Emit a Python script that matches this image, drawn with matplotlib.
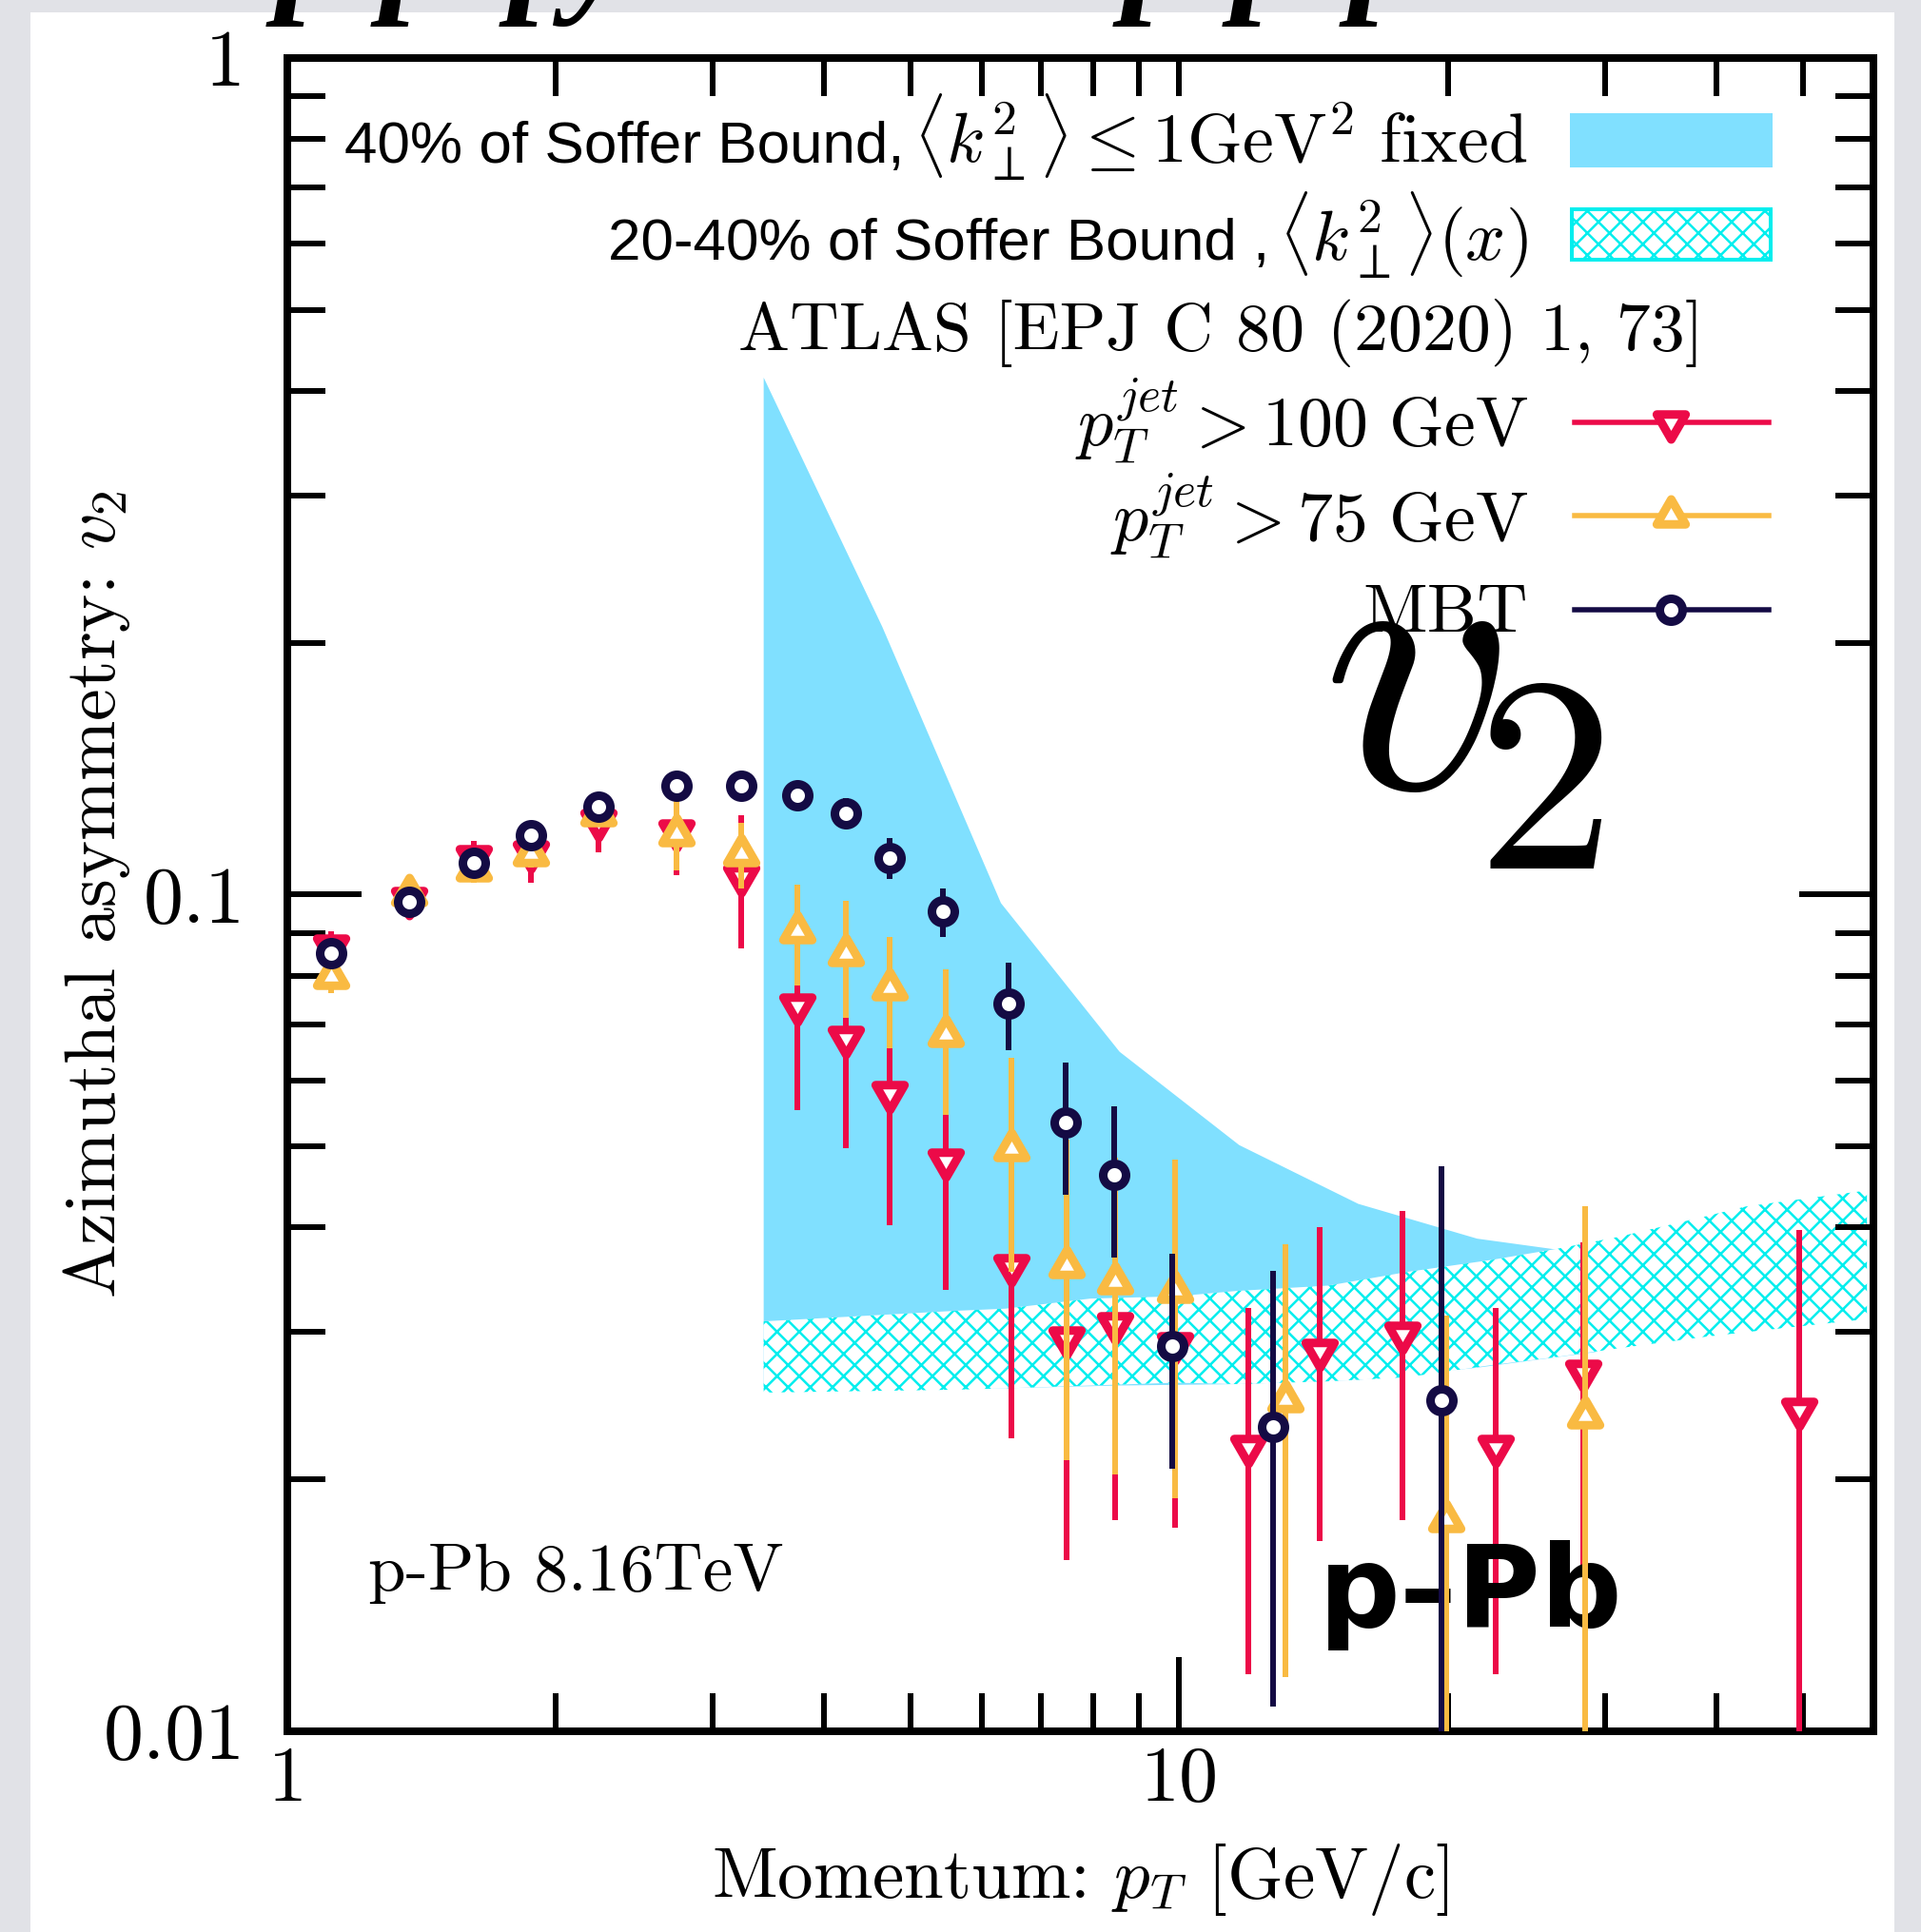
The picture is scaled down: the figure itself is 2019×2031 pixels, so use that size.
import numpy as np
import matplotlib
matplotlib.use("Agg")
import matplotlib.pyplot as plt
import matplotlib.transforms as mtransforms
from matplotlib.path import Path
from matplotlib.patches import Rectangle
from matplotlib.lines import Line2D

DPI = 140
W, H = 2019, 2031


def px(v):
    # size given in output pixels -> points
    return v * 72.0 / DPI


RED = "#EC0A48"
ORANGE = "#F9BA42"
NAVY = "#140B44"
BAND = "#80E0FF"
HATCH = "#00EEEE"
BG = "#E1E2E7"

plt.rcParams.update({
    "mathtext.fontset": "cm",
    "hatch.linewidth": px(2.5),
    "axes.linewidth": px(8),
    "axes.unicode_minus": False,
})

# ---- data ----
pt_mbt = [1.12, 1.37, 1.62, 1.875, 2.23, 2.73, 3.23, 3.73, 4.23, 4.73, 5.43,
          6.44, 7.45, 8.45, 9.81, 12.74, 19.69]
v2_mbt = [0.0851, 0.0980, 0.1091, 0.1179, 0.1274, 0.1351, 0.1351, 0.1315, 0.1252,
          0.1106, 0.0954, 0.0741, 0.0534, 0.0463, 0.0289, 0.0231, 0.0249]
err_mbt = [0.002, 0.002, 0.002, 0.002, 0.002, 0.002, 0.002, 0.0025, 0.0053,
           0.0062, 0.0064, 0.0089, 0.0096, 0.0095, 0.0083, 0.0124, 0.0224]

pt_100 = [1.12, 1.37, 1.62, 1.875, 2.23, 2.73, 3.23, 3.73, 4.23, 4.73, 5.47,
          6.48, 7.47, 8.47, 9.90, 11.94, 14.38, 17.80, 22.65, 28.34, 49.5]
v2_100 = [0.0868, 0.0988, 0.1110, 0.1123, 0.1225, 0.1191, 0.1053, 0.0737, 0.0675,
          0.0580, 0.0481, 0.0360, 0.0295, 0.0307, 0.0290, 0.0219, 0.0285, 0.0299,
          0.0219, 0.0269, 0.0242]
err_100 = [0.0035, 0.003, 0.005, 0.009, 0.010, 0.0135, 0.019, 0.0184, 0.0177,
           0.0177, 0.0144, 0.0136, 0.0135, 0.0128, 0.0115, 0.0102, 0.0116, 0.012,
           0.0102, 0.0115, 0.0155]

pt_75 = [1.12, 1.37, 1.62, 1.875, 2.23, 2.73, 3.23, 3.73, 4.23, 4.73, 5.47,
         6.48, 7.47, 8.47, 9.90, 13.15, 19.9, 28.49]
v2_75 = [0.0797, 0.1000, 0.1072, 0.1117, 0.1247, 0.1181, 0.1117, 0.0904, 0.0848,
         0.0773, 0.0680, 0.0496, 0.0360, 0.0344, 0.0336, 0.0249, 0.0179, 0.0238]
err_75 = [0.0035, 0.003, 0.004, 0.004, 0.004, 0.0113, 0.010, 0.0125, 0.0136,
          0.0117, 0.0135, 0.0142, 0.0149, 0.0141, 0.0146, 0.0133, 0.0135, 0.0186]

# 40% Soffer band (solid)
band40_x = [3.42, 4.645, 6.31, 8.57, 11.67, 15.87, 21.57, 29.3]
band40_hi = [0.415, 0.209, 0.0977, 0.0649, 0.0502, 0.0427, 0.0388, 0.0371]
band40_lo = [0.0256, 0.0257, 0.0257, 0.0259, 0.0260, 0.0263, 0.0272, 0.0284]

# 20-40% Soffer band (hatched)
band20_x = [3.42, 5.58, 6.38, 7.95, 9.9, 11.6, 14.7, 18.0, 22.4, 26.4, 31.1,
            38.7, 43.2, 59.0]
band20_hi = [0.0309, 0.0318, 0.0320, 0.0329, 0.0331, 0.0336, 0.0341, 0.0354,
             0.0366, 0.0377, 0.0390, 0.0412, 0.0424, 0.0443]
band20_lo = [0.0254, 0.0256, 0.0257, 0.0259, 0.0261, 0.0260, 0.0262, 0.0265,
             0.0274, 0.0280, 0.0287, 0.0296, 0.0300, 0.0311]

x_major = [1, 10]
x_minor = [2, 3, 4, 5, 6, 7, 8, 9, 20, 30, 40, 50]
y_major = [0.01, 0.1, 1]
y_major_labels = ["0.01", "0.1", "1"]
y_minor = [0.02, 0.03, 0.04, 0.05, 0.06, 0.07, 0.08, 0.09,
           0.2, 0.3, 0.4, 0.5, 0.6, 0.7, 0.8, 0.9]

# ---- markers ----
s3 = np.sqrt(3)
tri_down = Path([(-1, 1 / s3), (1, 1 / s3), (0, -2 / s3), (0, 0)], closed=True)
tri_up = Path([(-1, -1 / s3), (1, -1 / s3), (0, 2 / s3), (0, 0)], closed=True)

TRI = dict(ms=px(35), mew=px(9), mfc="white")
CIRC = dict(ms=px(24), mew=px(9), mfc="white")
ELW = px(6)
CM_FS = px(74)

fig = plt.figure(figsize=(W / DPI, H / DPI), dpi=DPI, facecolor=BG)
fig.add_artist(Rectangle((32 / W, 0), (1991 - 32) / W, 1 - 13 / H,
                         transform=fig.transFigure, facecolor="white",
                         edgecolor="none", zorder=-10))
ax = fig.add_axes([302 / W, 1 - 1820 / H, 1667 / W, 1759 / H])

ax.fill_between(band40_x, band40_lo, band40_hi, facecolor=BAND,
                edgecolor="none", linewidth=0, zorder=1)
ax.fill_between(band20_x, band20_lo, band20_hi, facecolor="white",
                edgecolor=HATCH, hatch="xx", linewidth=0, zorder=1.5)

ax.errorbar(pt_100, v2_100, yerr=err_100, fmt="none", ecolor=RED,
            elinewidth=ELW, capsize=0, zorder=3)
ax.plot(pt_100, v2_100, ls="none", marker=tri_down, mec=RED, zorder=3.1, **TRI)
ax.errorbar(pt_75, v2_75, yerr=err_75, fmt="none", ecolor=ORANGE,
            elinewidth=ELW, capsize=0, zorder=4)
ax.plot(pt_75, v2_75, ls="none", marker=tri_up, mec=ORANGE, zorder=4.1, **TRI)
ax.errorbar(pt_mbt, v2_mbt, yerr=err_mbt, fmt="none", ecolor=NAVY,
            elinewidth=ELW, capsize=0, zorder=5)
ax.plot(pt_mbt, v2_mbt, ls="none", marker="o", mec=NAVY, zorder=5.1, **CIRC)

ax.set_xscale("log")
ax.set_yscale("log")
ax.set_xlim(1, 60)
ax.set_ylim(0.01, 1)
ax.set_xticks(x_major, [str(v) for v in x_major])
ax.set_xticks(x_minor, minor=True)
ax.set_xticklabels([], minor=True)
ax.set_yticks(y_major, y_major_labels)
ax.set_yticks(y_minor, minor=True)
ax.set_yticklabels([], minor=True)
ax.tick_params(which="both", direction="in", top=True, right=True,
               width=px(6), color="black")
ax.tick_params(which="major", length=px(78))
ax.tick_params(which="minor", length=px(40))
ax.tick_params(axis="x", which="major", pad=px(16), labelsize=px(82))
ax.tick_params(axis="y", which="major", pad=px(44), labelsize=px(84))
for lab in ax.get_xticklabels() + ax.get_yticklabels():
    lab.set_fontfamily("cmr10")
# top ticks and the y=1 tick are short in the original
for t in ax.xaxis.get_major_ticks():
    t.tick2line.set_markersize(px(40))
ytk = ax.yaxis.get_major_ticks()
ytk[2].tick1line.set_markersize(px(40))
ytk[2].tick2line.set_markersize(px(40))

ax.set_xlabel(r"Momentum: $p_T$ [GeV/c]", fontfamily="cmr10", fontsize=px(75))
ax.set_ylabel(r"Azimuthal asymmetry: $v_2$", fontfamily="cmr10", fontsize=px(76))
ax.xaxis.set_label_coords(0.5, -0.066)
ax.yaxis.set_label_coords(-0.098, 0.5)

# ---- annotations ----
ax.text(0.0509, 0.0843, "p-Pb 8.16TeV", transform=ax.transAxes,
        fontfamily="cmr10", fontsize=px(71), va="baseline")
ax.text(0.6500, 0.0624, "p\u2013Pb", transform=ax.transAxes,
        fontfamily="DejaVu Sans", fontweight="bold", fontsize=px(120),
        va="baseline")
# big v_2 label: v and its subscript placed separately
ax.text(0.652, 0.5634, r"$v$", transform=ax.transAxes, fontsize=px(398),
        va="baseline", ha="left", zorder=6)
ax.text(0.7490, 0.5156, r"$2$", transform=ax.transAxes, fontsize=px(292),
        va="baseline", ha="left", zorder=6)

# title fragments cut off at the top edge
for xp, ch in [(290, "p"), (400, "p"), (535, "p"), (595, "y"),
               (1180, "p"), (1295, "p"), (1418, "p")]:
    fig.text(xp / W, 1 + 4 / H, ch, fontfamily="Liberation Serif",
             fontstyle="italic", fontweight="bold", fontsize=px(150),
             va="baseline")

# ---- legend, drawn by hand ----
TR = 0.7822
HX0, HX1, HXM = 0.8116, 0.934, 0.8722


def mixed_entry(y, sans, math):
    m = ax.text(TR, y, math, transform=ax.transAxes, ha="right",
                va="baseline", fontsize=CM_FS)
    fig.canvas.draw()
    w = m.get_window_extent().width
    tr = mtransforms.offset_copy(ax.transAxes, x=-w - 10, y=0, units="dots")
    ax.text(TR, y, sans, transform=tr, ha="right", va="baseline",
            fontsize=px(62), fontfamily="Liberation Sans")


mixed_entry(0.9372, "40% of Soffer Bound,",
            r"$\langle k_\perp^2\rangle \leq 1\mathrm{GeV}^2\ \mathrm{fixed}$")
mixed_entry(0.8792, "20-40% of Soffer Bound ,",
            r"$\langle k_\perp^2\rangle(x)$")
ax.add_patch(Rectangle((0.8086, 0.9349), 0.1278, 0.0319, transform=ax.transAxes,
                       facecolor=BAND, edgecolor="none", clip_on=False))
ax.add_patch(Rectangle((0.8096, 0.8797), 0.1258, 0.0300, transform=ax.transAxes,
                       facecolor="white", edgecolor=HATCH, hatch="xx",
                       linewidth=px(4), clip_on=False))
ax.text(0.8930, 0.8252, "ATLAS [EPJ C 80 (2020) 1, 73]", transform=ax.transAxes,
        fontfamily="cmr10", fontsize=px(72), ha="right", va="baseline")

rows = [(0.7683, 0.7825, r"$p_T^{jet} > 100\ \mathrm{GeV}$", RED, tri_down, TRI),
        (0.7118, 0.7263, r"$p_T^{jet} > 75\ \mathrm{GeV}$", ORANGE, tri_up, TRI),
        (0.6566, 0.6700, "MBT", NAVY, "o", CIRC)]
for yb, yl, lab, col, mk, sty in rows:
    ax.text(TR, yb, lab, transform=ax.transAxes, fontfamily="cmr10",
            fontsize=CM_FS, ha="right", va="baseline")
    ax.add_line(Line2D([HX0, HX1], [yl, yl], transform=ax.transAxes, color=col,
                       lw=px(5.5), clip_on=False))
    ax.add_line(Line2D([HXM], [yl], transform=ax.transAxes, ls="none", marker=mk,
                       mec=col, clip_on=False, **sty))

fig.savefig("out.png", dpi=DPI, facecolor=BG)
